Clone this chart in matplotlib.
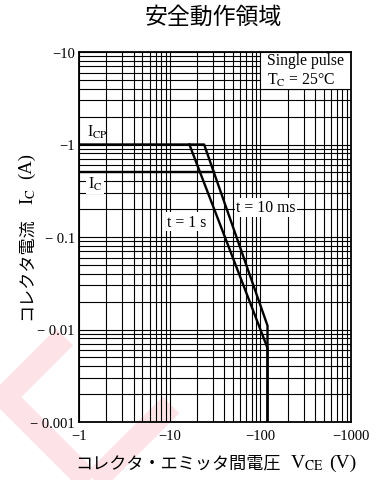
"""Safe operating area chart (PNP transistor datasheet style)."""

import matplotlib

matplotlib.use("Agg")
import matplotlib.pyplot as plt
import numpy as np
from matplotlib.lines import Line2D
from matplotlib.patches import Rectangle
from matplotlib.ticker import LogLocator, NullFormatter

plt.rcParams["font.family"] = ["Liberation Serif", "Noto Sans CJK JP"]
plt.rcParams["mathtext.fontset"] = "stix"

# curve data (V_CE in V, I_C in A)
v_10ms = [-1, -24, -120, -120]
i_10ms = [-1, -1, -0.011, -0.001]
v_1s = [-16.5, -120, -120]
i_1s = [-1, -0.0063, -0.001]
v_ic = [-1, -31]
i_ic = [-0.5, -0.5]

x_ticks = [-1, -10, -100, -1000]
x_tick_labels = ["\u22121", "\u221210", "\u2212100", "\u22121000"]
y_ticks = [-0.001, -0.01, -0.1, -1, -10]
y_tick_labels = ["\u2212 0.001", "\u2212 0.01", "\u2212 0.1", "\u22121", "\u221210"]

W, H = 384, 481


def px(x, y):
    # pixel position (from top-left) to figure fraction
    return x / W, 1 - y / H


fig = plt.figure(figsize=(W / 100, H / 100), dpi=100)

# faint watermark behind everything
wm = dict(transform=fig.transFigure, color="#fde3e8", lw=17,
          solid_joinstyle="miter", solid_capstyle="butt", zorder=-1)
pts = [px(64.7, 338), px(4.7, 398), px(104.7, 498)]
fig.add_artist(Line2D([p[0] for p in pts], [p[1] for p in pts], **wm))
pts = [px(171, 406), px(81, 496)]
fig.add_artist(Line2D([p[0] for p in pts], [p[1] for p in pts], **wm))

ax = fig.add_axes([79 / W, 1 - 423 / H, 272 / W, 370 / H])
ax.set_facecolor("none")
ax.set_xscale("log")
ax.set_yscale("log")
ax.set_xlim(1, 1000)
ax.set_ylim(0.001, 10)

ax.set_xticks(np.abs(x_ticks), labels=x_tick_labels)
ax.set_yticks(np.abs(y_ticks), labels=y_tick_labels)
ax.xaxis.set_minor_locator(LogLocator(base=10, subs=np.arange(2, 10)))
ax.yaxis.set_minor_locator(LogLocator(base=10, subs=np.arange(2, 10)))
ax.xaxis.set_minor_formatter(NullFormatter())
ax.yaxis.set_minor_formatter(NullFormatter())
ax.tick_params(which="both", length=0, labelsize=10.5)
ax.tick_params(axis="x", pad=5)
ax.tick_params(axis="y", pad=3)

ax.set_axisbelow(True)
ax.grid(True, which="both", color="black", lw=0.8)
for sp in ax.spines.values():
    sp.set_linewidth(1.3)

# curves
ax.plot(np.abs(v_10ms), np.abs(i_10ms), color="black", lw=1.7)
ax.plot(np.abs(v_1s), np.abs(i_1s), color="black", lw=1.7)
ax.plot(np.abs(v_ic), np.abs(i_ic), color="black", lw=1.7)

# condition box in the upper-right corner
ax.add_patch(Rectangle((100, 4), 900, 6, facecolor="white",
                       edgecolor="black", lw=0.8, zorder=1.5))
ax.text(118, 8.1, "Single pulse", fontsize=11.3, ha="left", va="center", zorder=3)
ax.text(118, 5.1, r"T$_{\mathrm{C}}$ = 25°C", fontsize=11.3, ha="left",
        va="center", zorder=3)

white = dict(facecolor="white", edgecolor="none", pad=1)
ax.text(1.24, 1.37, r"I$_{\mathrm{CP}}$", fontsize=11.3, ha="left", va="center",
        zorder=3)
ax.text(1.5, 0.376, r"I$_{\mathrm{C}}$", fontsize=11.3, ha="center", va="center",
        bbox=white, zorder=3)
ax.text(115, 0.21, "t = 10 ms", fontsize=11.3, ha="center", va="center",
        bbox=white, zorder=3)
ax.text(15.6, 0.147, "t = 1 s", fontsize=11.3, ha="center", va="center",
        bbox=white, zorder=3)

fig.text(*px(213, 18), "安全動作領域", fontsize=16.5, ha="center", va="center")

# axis labels: Japanese part and symbol parts drawn separately so the
# CJK glyphs do not go through mathtext
fig.text(*px(75, 468), "コレクタ・エミッタ間電圧", fontsize=12.3, ha="left",
         va="baseline")
fig.text(*px(290, 468), r"V$_{\mathrm{CE}}$", fontsize=14, ha="left",
         va="baseline")
fig.text(*px(329, 468), "(V)", fontsize=14, ha="left", va="baseline")
fig.text(*px(27, 320), "コレクタ電流", fontsize=12.3, ha="center", va="bottom",
         rotation=90)
fig.text(*px(28, 188), r"I$_{\mathrm{C}}$", fontsize=13.5, ha="center",
         va="top", rotation=90)
fig.text(*px(26, 153), "(A)", fontsize=13.5, ha="center", va="top", rotation=90)

fig.savefig("out.png", dpi=100, facecolor="white")
